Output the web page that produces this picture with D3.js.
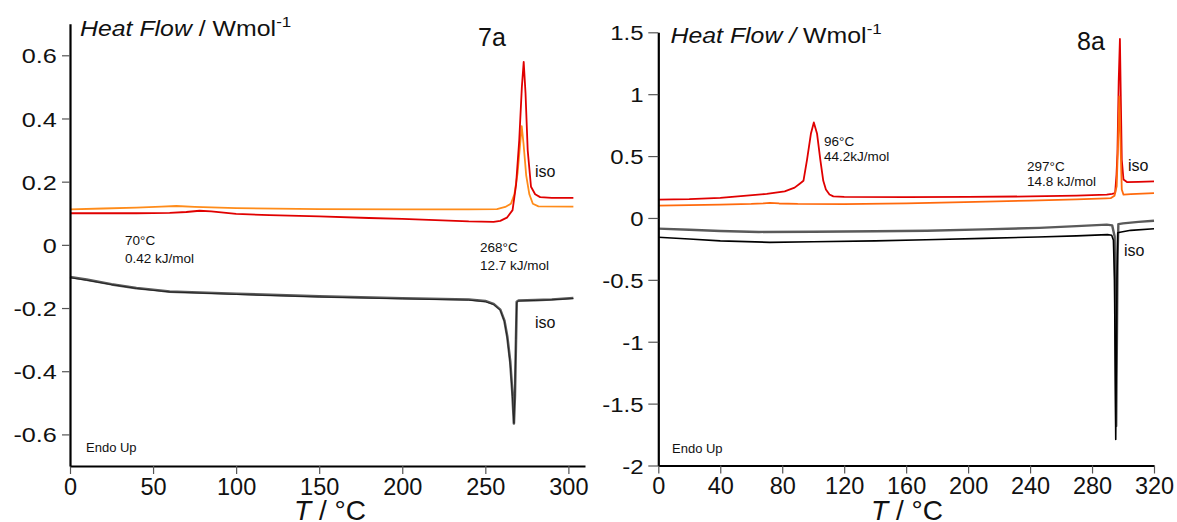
<!DOCTYPE html>
<html><head><meta charset="utf-8">
<script src="https://cdn.jsdelivr.net/npm/d3@7"></script>
<style>
html,body{margin:0;padding:0;background:#fff;}
svg{display:block;font-family:"Liberation Sans",Arial,sans-serif;}
</style></head>
<body>
<svg id="chart" width="1177" height="522"></svg>
<script>
// ---------- data (T in °C, heat flow in W/mol) ----------
const red7 = [[0,0.100],[20,0.100],[40,0.100],[60,0.101],[70,0.104],[78,0.108],[85,0.106],[100,0.098],[120,0.094],[150,0.090],[180,0.085],[200,0.082],[220,0.078],[240,0.074],[255,0.073],[259,0.076],[263,0.086],[266.4,0.11],[268.5,0.19],[270.4,0.33],[272,0.50],[273.1,0.579],[274.2,0.48],[275.5,0.30],[277.5,0.184],[280,0.16],[283,0.151],[290,0.149],[303,0.149]];
const orange7 = [[0,0.112],[20,0.115],[40,0.118],[55,0.121],[64,0.123],[75,0.120],[100,0.116],[150,0.113],[200,0.112],[240,0.112],[257,0.113],[262,0.12],[265.4,0.13],[267.5,0.16],[269.4,0.226],[270.8,0.31],[271.9,0.376],[273,0.32],[274.6,0.22],[276.5,0.16],[278.6,0.13],[282,0.122],[303,0.121]];
const gray7 = [[0,-0.102],[10,-0.11],[25,-0.125],[40,-0.137],[50,-0.142],[60,-0.148],[100,-0.155],[150,-0.163],[200,-0.169],[240,-0.173],[250,-0.178],[255,-0.187],[259,-0.205],[261.5,-0.24],[263.2,-0.29],[265,-0.37],[266.3,-0.47],[267.2,-0.565],[267.8,-0.48],[268.4,-0.32],[268.9,-0.18],[270,-0.176],[280,-0.175],[290,-0.173],[303,-0.168]];
const black7 = [[0,-0.104],[10,-0.112],[25,-0.126],[40,-0.138],[50,-0.144],[60,-0.149],[100,-0.157],[150,-0.165],[200,-0.171],[240,-0.175],[250,-0.18],[255,-0.189],[259,-0.207],[261.5,-0.243],[263.2,-0.295],[265,-0.38],[266.3,-0.48],[267.2,-0.565],[267.8,-0.47],[268.4,-0.3],[268.9,-0.182],[270,-0.178],[280,-0.176],[290,-0.174],[303,-0.17]];

const red8 = [[0,0.148],[20,0.152],[40,0.162],[57,0.18],[70,0.195],[81.6,0.215],[88,0.245],[91.3,0.277],[93.7,0.30],[96,0.47],[98.5,0.68],[100.4,0.772],[102.5,0.68],[104.6,0.47],[106.5,0.30],[108.2,0.23],[110.5,0.19],[113,0.174],[120,0.170],[160,0.168],[200,0.170],[240,0.174],[270,0.18],[289.5,0.188],[293,0.195],[294.9,0.20],[295.8,0.35],[296.4,0.525],[297.2,1.1],[298,1.446],[298.6,0.95],[299.2,0.47],[300.3,0.31],[302.5,0.29],[310,0.292],[320,0.296]];
const orange8 = [[0,0.10],[20,0.104],[40,0.108],[60,0.113],[68,0.118],[72,0.122],[78,0.117],[90,0.113],[120,0.112],[160,0.118],[197.6,0.128],[240,0.14],[270,0.15],[289,0.158],[292,0.16],[294.5,0.18],[295.9,0.255],[296.8,0.6],[297.6,0.982],[298.4,0.6],[299.2,0.23],[300.3,0.188],[305,0.192],[320,0.20]];
const gray8 = [[0,-0.086],[20,-0.095],[40,-0.105],[65,-0.113],[100,-0.111],[140,-0.107],[173.5,-0.103],[210,-0.092],[246,-0.08],[270,-0.066],[289.5,-0.054],[293,-0.06],[294.6,-0.15],[295.6,-1.68],[296.5,-0.3],[297,-0.05],[300,-0.044],[310,-0.032],[320,-0.022]];
const black8 = [[0,-0.156],[20,-0.17],[40,-0.185],[72,-0.197],[100,-0.192],[140,-0.185],[173,-0.176],[210,-0.165],[245,-0.154],[270,-0.145],[290,-0.135],[292.7,-0.14],[293.8,-0.18],[294.5,-0.5],[295.3,-1.79],[296.1,-0.5],[296.6,-0.12],[298,-0.115],[305,-0.1],[320,-0.087]];

const xTicks7 = [0,50,100,150,200,250,300];
const yTicks7 = [-0.6,-0.4,-0.2,0,0.2,0.4,0.6];
const xTicks8 = [0,40,80,120,160,200,240,280,320];
const yTicks8 = [-2,-1.5,-1,-0.5,0,0.5,1,1.5];

const svg = d3.select("#chart");

function panel(cfg){
  const x = d3.scaleLinear().domain(cfg.xDom).range(cfg.xRange);
  const y = d3.scaleLinear().domain(cfg.yDom).range(cfg.yRange);
  const g = svg.append("g");
  const line = d3.line().x(d=>x(d[0])).y(d=>y(d[1]));
  cfg.series.forEach(s=>{
    g.append("path").datum(s.data).attr("d",line)
      .attr("fill","none").attr("stroke",s.color).attr("stroke-width",s.w)
      .attr("stroke-linejoin","round");
  });
  const fmt = v => String(+v.toFixed(2));
  const xa = g.append("g").attr("transform",`translate(0,${cfg.yRange[0]})`)
    .call(d3.axisBottom(x).tickValues(cfg.xTicks).tickSizeOuter(0).tickSizeInner(8).tickPadding(4).tickFormat(fmt));
  const ya = g.append("g").attr("transform",`translate(${cfg.xRange[0]},0)`)
    .call(d3.axisLeft(y).tickValues(cfg.yTicks).tickSizeOuter(0).tickSizeInner(cfg.ytick).tickPadding(3).tickFormat(fmt));
  [xa,ya].forEach(a=>{
    a.select(".domain").attr("stroke","#000").attr("stroke-width",2.2);
    a.selectAll(".tick line").attr("stroke","#555").attr("stroke-width",1.2);
    a.selectAll(".tick text").attr("fill","#111").style("font-family","Liberation Sans, Arial, sans-serif");
  });
  xa.selectAll(".tick text").style("font-size","23.5px");
  ya.selectAll(".tick text").style("font-size","21px").attr("dy","0.36em")
    .attr("transform",`scale(${cfg.ystretch},1)`);
  return {x,y,g};
}

const p7 = panel({xDom:[0,310],xRange:[70,585],yDom:[-0.7,0.7],yRange:[466,23.7],
  xTicks:xTicks7,yTicks:yTicks7,ytick:8,ystretch:1.2,
  series:[{data:orange7,color:"#ff8c1a",w:1.8},{data:red7,color:"#e00000",w:1.8},
          {data:gray7,color:"#5a5a5a",w:2.6},{data:black7,color:"#222",w:1}]});
const p8 = panel({xDom:[0,320],xRange:[658.3,1154],yDom:[-2,1.5],yRange:[465.5,32.3],
  xTicks:xTicks8,yTicks:yTicks8,ytick:10,ystretch:1.14,
  series:[{data:red8,color:"#e00000",w:1.8},{data:orange8,color:"#ff6a0d",w:1.8},
          {data:gray8,color:"#5a5a5a",w:2.4},{data:black8,color:"#000",w:1.6}]});

function txt(x,y,s,size,opts={}){
  return svg.append("text").attr("x",x).attr("y",y).attr("font-size",size)
    .attr("fill","#111").attr("text-anchor",opts.anchor||"start").text(s);
}
function ylabel(x,y,slashItalic){
  const t = svg.append("text").attr("transform",`translate(${x},${y}) scale(1.13,1)`)
    .attr("font-size",22).attr("fill","#111");
  t.append("tspan").attr("font-style","italic").text("Heat Flow");
  t.append("tspan").attr("font-style",slashItalic?"italic":"normal").text(" /");
  t.append("tspan").text(" Wmol");
  t.append("tspan").attr("font-size",15).attr("dy",-9).text("-1");
}
ylabel(80,36,false);
ylabel(670.5,42.7,true);

function xlabel(cx){
  const t = svg.append("text").attr("x",cx).attr("y",520).attr("font-size",28).attr("fill","#111").attr("text-anchor","middle");
  t.append("tspan").attr("font-style","italic").text("T");
  t.append("tspan").text(" / °C");
}
xlabel(330); xlabel(907);

txt(478,46,"7a",25);
txt(1077,50,"8a",25);

txt(125,245,"70°C",13.5);
txt(125,263,"0.42 kJ/mol",13.5);
txt(480,252,"268°C",13.5);
txt(480,270,"12.7 kJ/mol",13.5);
txt(535,177,"iso",16);
txt(535,328,"iso",16);
txt(86,452,"Endo Up",13);

txt(824,146,"96°C",13.5);
txt(824,161,"44.2kJ/mol",13.5);
txt(1027,171,"297°C",13.5);
txt(1027,186,"14.8 kJ/mol",13.5);
txt(1128,171,"iso",16);
txt(1124,256,"iso",16);
txt(672,453,"Endo Up",13);
</script>
</body></html>
